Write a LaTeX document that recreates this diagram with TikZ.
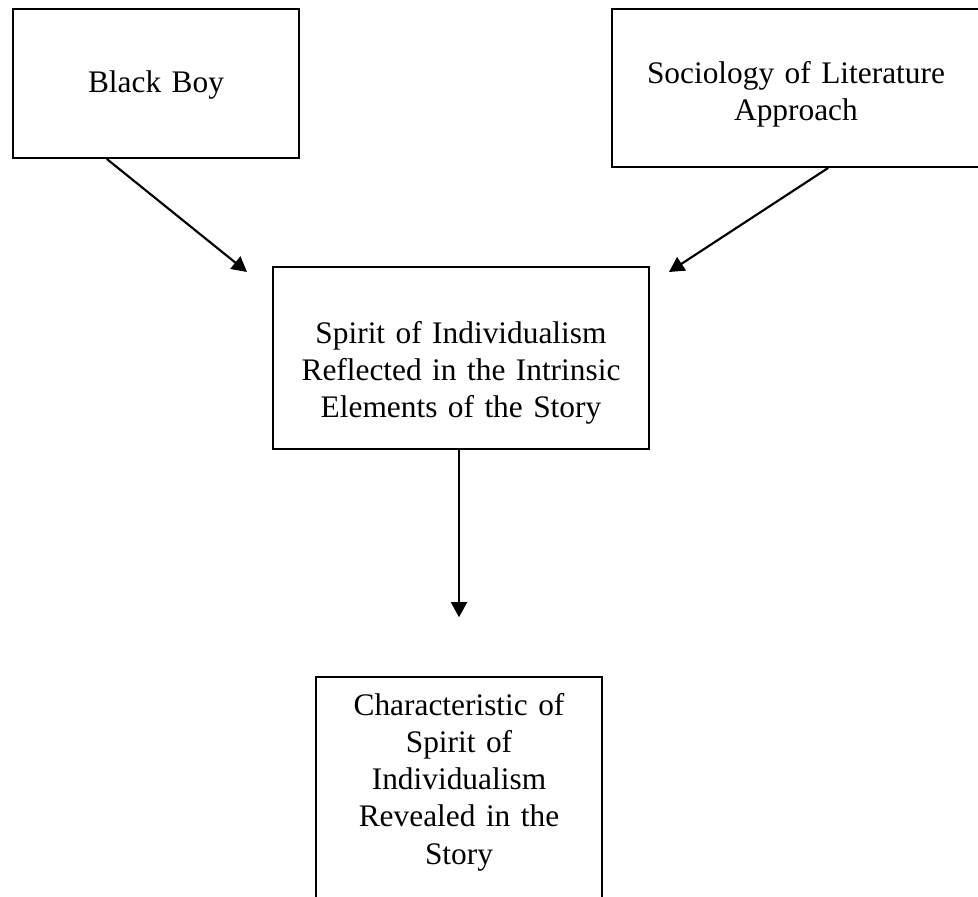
\documentclass[tikz,border=0pt]{standalone}
\usepackage{fontspec}
\setmainfont{Liberation Serif}
\usetikzlibrary{arrows.meta,calc}

\tikzstyle{box} = [rectangle, draw=black, line width=0.75pt, inner sep=0pt, align=center, anchor=north, font=\fontsize{11.7pt}{13.8pt}\selectfont]
\tikzstyle{flow} = [-{Triangle[length=5.6pt, width=5.9pt]}, line width=0.8pt, draw=black]

\begin{document}
\begin{tikzpicture}[x=0.0131cm, y=-0.0131cm]
    \useasboundingbox (0,0) rectangle (978,897);

    \node (book) [box, text width=3.747cm, text height=1.1cm, text depth=0.852cm] at (156,8) {Black Boy};
    \node (approach) [box, text width=4.82cm, text height=0.97cm, text depth=1.1cm] at (796,8) {Sociology of Literature\\Approach};
    \node (spirit) [box, text width=4.926cm, text height=1.009cm, text depth=1.376cm] at (461,266) {Spirit of Individualism\\Reflected in the Intrinsic\\Elements of the Story};
    \node (trait) [box, text width=3.76cm, text height=0.511cm, text depth=3.4cm] at (459,676) {Characteristic of\\Spirit of\\Individualism\\Revealed in the\\Story};

    \coordinate (booktip) at (247,272);
    \coordinate (approachtip) at (669,272);

    \draw [flow] ($(book.south west)!0.329!(book.south east)$) -- (booktip);
    \draw [flow] ($(approach.south west)!0.587!(approach.south east)$) -- (approachtip);
    \draw [flow, shorten >=0.77cm] (trait.north |- spirit.south) -- (trait.north);
\end{tikzpicture}
\end{document}
